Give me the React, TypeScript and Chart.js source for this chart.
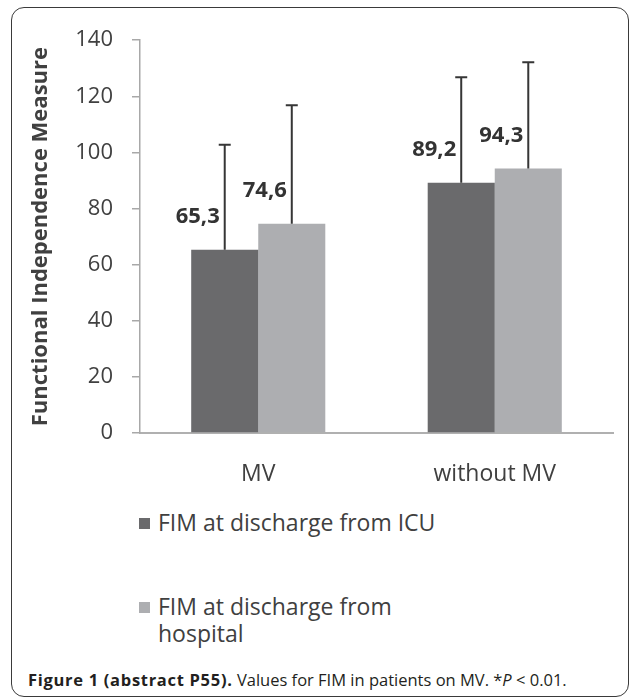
import React, { useEffect, useRef } from 'react';
import { Chart, registerables } from 'chart.js';

Chart.register(...registerables);

const categories = ['MV', 'without MV'];
const seriesNames = ['FIM at discharge from ICU', 'FIM at discharge from hospital'];
const icuValues = [65.3, 89.2];
const hospitalValues = [74.6, 94.3];
const icuErrors = [37.4, 37.6];
const hospitalErrors = [42.2, 37.8];
const yTicks = [0, 20, 40, 60, 80, 100, 120, 140];
const seriesColors = ['#6a6a6c', '#adaeb1'];
const yTitle = 'Functional Independence Measure';

const errorsBySeries = [icuErrors, hospitalErrors];
const FONT = "'Open Sans', sans-serif";

const errorBarPlugin = {
  id: 'errorBarsAndLabels',
  afterDatasetsDraw(chart: any) {
    const { ctx } = chart;
    const yScale = chart.scales.y;
    ctx.save();
    ctx.strokeStyle = '#363636';
    ctx.lineWidth = 2;
    chart.data.datasets.forEach((ds: any, i: number) => {
      const meta = chart.getDatasetMeta(i);
      meta.data.forEach((el: any, j: number) => {
        const v = ds.data[j];
        const top = yScale.getPixelForValue(v + errorsBySeries[i][j]);
        ctx.beginPath();
        ctx.moveTo(el.x, el.y);
        ctx.lineTo(el.x, top);
        ctx.moveTo(el.x - 6, top);
        ctx.lineTo(el.x + 6, top);
        ctx.stroke();
      });
    });
    ctx.font = `bold 22px ${FONT}`;
    ctx.fillStyle = '#333333';
    ctx.textAlign = 'right';
    ctx.textBaseline = 'middle';
    chart.data.datasets.forEach((ds: any, i: number) => {
      const meta = chart.getDatasetMeta(i);
      meta.data.forEach((el: any, j: number) => {
        const txt = Number(ds.data[j]).toFixed(1).replace('.', ',');
        ctx.fillText(txt, el.x - 5, el.y - 33);
      });
    });
    ctx.restore();
  },
};

export default function App() {
  const canvasRef = useRef<HTMLCanvasElement | null>(null);

  useEffect(() => {
    if (!canvasRef.current) return;
    Chart.defaults.font.family = FONT;
    const chart = new Chart(canvasRef.current, {
      type: 'bar',
      data: {
        labels: categories,
        datasets: [
          {
            label: seriesNames[0],
            data: icuValues,
            backgroundColor: seriesColors[0],
            barPercentage: 1,
            categoryPercentage: 0.567,
          },
          {
            label: seriesNames[1],
            data: hospitalValues,
            backgroundColor: seriesColors[1],
            barPercentage: 1,
            categoryPercentage: 0.567,
          },
        ],
      },
      options: {
        responsive: false,
        animation: false,
        devicePixelRatio: 1,
        layout: { padding: { left: 0, right: 15, top: 28, bottom: 0 } },
        plugins: {
          legend: { display: false },
          tooltip: { enabled: false },
        },
        scales: {
          x: {
            grid: { display: false, drawTicks: false },
            border: { display: true, color: '#b0b0b0', width: 2 },
            ticks: {
              color: '#404040',
              font: { size: 23, family: FONT },
              padding: 28,
            },
            afterFit: (scale: any) => {
              scale.height = 55;
            },
          },
          y: {
            min: yTicks[0],
            max: yTicks[yTicks.length - 1],
            grid: {
              display: true,
              drawOnChartArea: false,
              drawTicks: true,
              tickLength: 8,
              color: '#a8a8a8',
              lineWidth: 1.5,
            },
            border: { display: true, color: '#a8a8a8', width: 1.5 },
            ticks: {
              stepSize: yTicks[1] - yTicks[0],
              color: '#404040',
              font: { size: 22, family: FONT },
              padding: 19,
            },
            title: {
              display: true,
              text: yTitle,
              color: '#404040',
              font: { size: 22, weight: 'bold', family: FONT },
              padding: { top: 16, bottom: 0 },
            },
            afterFit: (scale: any) => {
              scale.width = 128;
            },
          },
        },
      },
      plugins: [errorBarPlugin],
    } as any);
    return () => chart.destroy();
  }, []);

  const legendTops = [509, 593];
  const textColor = '#404040';

  return (
    <div
      style={{
        position: 'fixed',
        left: 0,
        top: 0,
        width: 633,
        height: 698,
        overflow: 'hidden',
        background: '#ffffff',
      }}
    >
      <div
        style={{
          position: 'absolute',
          left: 11,
          top: 7,
          width: 618,
          height: 690,
          border: '1.5px solid #3a3a3a',
          borderRadius: 13,
          boxSizing: 'border-box',
        }}
      />
      <canvas
        ref={canvasRef}
        width={616}
        height={480}
        style={{ position: 'absolute', left: 12, top: 8, width: 616, height: 480 }}
      />
      {seriesNames.map((name, i) => (
        <div
          key={name}
          style={{
            position: 'absolute',
            left: 139,
            top: legendTops[i],
            display: 'flex',
            alignItems: 'flex-start',
            fontFamily: FONT,
            fontSize: 23,
            lineHeight: '27px',
            color: textColor,
          }}
        >
          <div
            style={{
              width: 11,
              height: 11,
              marginTop: 9,
              marginRight: 8,
              background: seriesColors[i],
              flex: 'none',
            }}
          />
          <div style={{ maxWidth: 290 }}>{name}</div>
        </div>
      ))}
      <div
        style={{
          position: 'absolute',
          left: 28,
          top: 670,
          fontFamily: FONT,
          fontSize: 16.5,
          lineHeight: '20px',
          color: '#231f20',
          whiteSpace: 'nowrap',
        }}
      >
        <b style={{ letterSpacing: 0.7 }}>Figure 1 (abstract P55).</b> Values for FIM in patients on MV. *<i>P</i> &lt; 0.01.
      </div>
    </div>
  );
}
